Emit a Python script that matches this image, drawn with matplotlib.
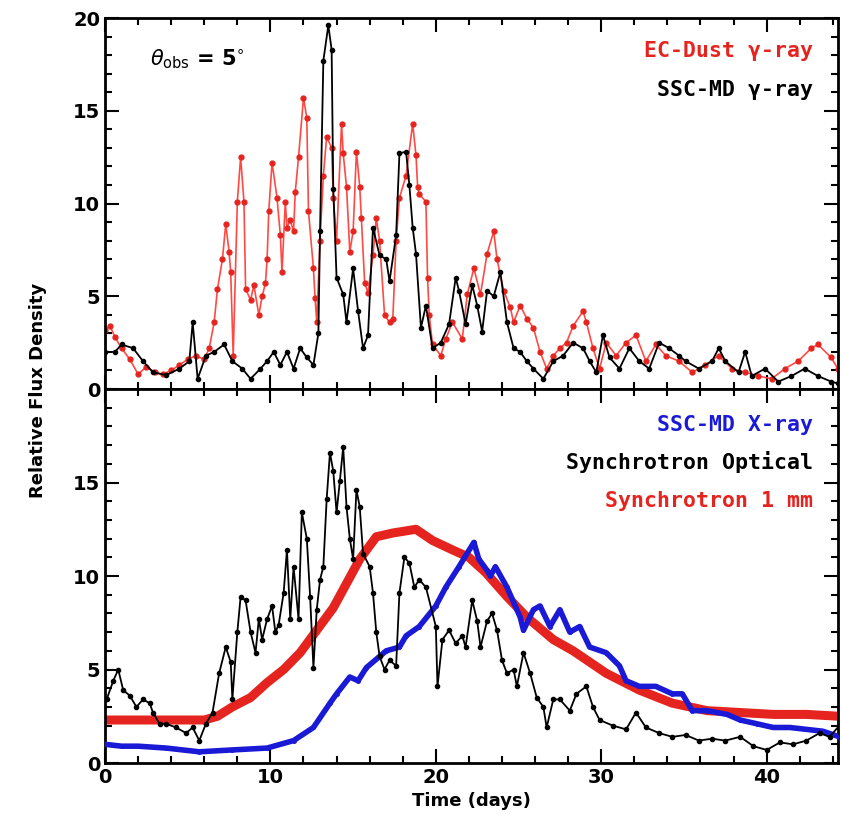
import numpy as np
import matplotlib
matplotlib.use('Agg')
import matplotlib.pyplot as plt
from matplotlib.ticker import MultipleLocator

# ---- top panel: gamma-ray light curves ----
t_ecd = [0, 0.3, 0.6, 1.0, 1.5, 2.0, 2.5, 3.0, 3.5, 4.0,
         4.5, 5.0, 5.5, 6.0, 6.3, 6.6, 6.8, 7.1, 7.3, 7.5,
         7.6, 7.75, 8.0, 8.2, 8.4, 8.5, 8.8, 9.0, 9.3, 9.5,
         9.7, 9.8, 9.9, 10.1, 10.4, 10.6, 10.7, 10.9, 11.0, 11.2,
         11.4, 11.5, 11.7, 12.0, 12.2, 12.3, 12.6, 12.7, 12.8, 13.0,
         13.2, 13.4, 13.7, 13.8, 14.0, 14.3, 14.4, 14.6, 14.8, 15.0,
         15.2, 15.4, 15.5, 15.7, 15.9, 16.2, 16.4, 16.6, 16.9, 17.2,
         17.4, 17.6, 17.8, 18.2, 18.6, 18.8, 18.9, 19.0, 19.4, 19.5,
         19.6, 19.8, 20.3, 20.6, 21.0, 21.6, 21.9, 22.3, 22.7, 23.1,
         23.5, 23.7, 24.1, 24.5, 24.7, 25.1, 25.5, 25.9, 26.3, 26.7,
         27.1, 27.5, 27.9, 28.3, 28.9, 29.1, 29.5, 29.9, 30.3, 30.9,
         31.5, 32.1, 32.7, 33.3, 33.9, 34.7, 35.5, 36.3, 37.1, 37.9,
         38.7, 39.5, 40.3, 41.1, 41.9, 42.7, 43.1, 43.9, 44.3]
f_ecd = [3.2, 3.4, 2.8, 2.2, 1.6, 0.8, 1.2, 0.9, 0.8, 1.0,
         1.3, 1.6, 1.8, 1.6, 2.2, 3.6, 5.4, 7.0, 8.9, 7.4,
         6.3, 1.8, 10.1, 12.5, 10.1, 5.4, 4.8, 5.6, 4.0, 5.0,
         5.7, 7.0, 9.6, 12.2, 10.3, 8.3, 6.3, 10.1, 8.7, 9.1,
         8.5, 10.6, 12.5, 15.7, 14.6, 9.6, 6.5, 4.9, 3.6, 8.0,
         11.5, 13.6, 13.0, 10.3, 8.0, 14.3, 12.7, 10.9, 7.4, 8.5,
         12.8, 10.9, 9.2, 5.7, 5.2, 7.2, 9.2, 8.0, 4.0, 3.6,
         3.8, 8.0, 10.3, 11.5, 14.3, 12.6, 10.9, 10.5, 10.1, 6.0,
         4.0, 2.4, 1.8, 2.7, 3.6, 2.7, 5.1, 6.5, 5.1, 7.3,
         8.5, 7.0, 5.3, 4.4, 3.6, 4.5, 3.8, 3.3, 2.0, 1.1,
         1.8, 2.2, 2.5, 3.4, 4.2, 3.6, 2.2, 1.1, 2.5, 1.8,
         2.5, 2.9, 1.5, 2.4, 1.8, 1.5, 0.9, 1.3, 1.8, 1.1,
         0.9, 0.7, 0.55, 1.1, 1.5, 2.2, 2.4, 1.7, 1.1]

t_sscg = [0, 0.6, 1.0, 1.7, 2.3, 2.9, 3.7, 4.5, 5.1, 5.3,
          5.6, 6.1, 6.6, 7.2, 7.7, 8.3, 8.8, 9.4, 9.8, 10.2,
          10.6, 11.0, 11.4, 11.8, 12.2, 12.6, 12.9, 13.0, 13.2, 13.5,
          13.7, 13.8, 14.0, 14.4, 14.6, 15.0, 15.3, 15.6, 15.9, 16.2,
          16.6, 17.0, 17.2, 17.6, 17.8, 18.2, 18.4, 18.6, 18.8, 19.1,
          19.4, 19.8, 20.3, 20.8, 21.2, 21.4, 21.8, 22.2, 22.5, 22.8,
          23.1, 23.5, 23.9, 24.3, 24.7, 25.1, 25.5, 25.9, 26.5, 27.1,
          27.7, 28.3, 28.9, 29.3, 29.7, 30.1, 30.5, 31.1, 31.7, 32.3,
          32.9, 33.5, 34.1, 34.7, 35.1, 35.9, 36.7, 37.1, 37.5, 38.3,
          38.7, 39.1, 39.9, 40.7, 41.5, 42.3, 43.1, 43.9, 44.3]
f_sscg = [2.0, 2.0, 2.4, 2.2, 1.5, 0.9, 0.75, 1.1, 1.5, 3.6,
          0.55, 1.8, 2.0, 2.4, 1.5, 1.1, 0.55, 1.1, 1.5, 2.0,
          1.3, 2.0, 1.1, 2.2, 1.7, 1.3, 3.0, 8.5, 17.7, 19.6,
          18.3, 10.8, 6.0, 5.1, 3.6, 6.5, 4.2, 2.2, 2.9, 8.7,
          7.2, 7.0, 5.8, 8.3, 12.7, 12.8, 11.0, 8.7, 7.3, 3.3,
          4.5, 2.2, 2.5, 3.5, 6.0, 5.3, 3.5, 5.6, 4.5, 3.1,
          5.3, 5.0, 6.3, 3.6, 2.2, 2.0, 1.5, 1.1, 0.55, 1.5,
          1.8, 2.5, 2.2, 1.5, 0.9, 2.9, 1.7, 1.1, 2.2, 1.5,
          1.1, 2.5, 2.2, 1.8, 1.5, 1.1, 1.5, 2.2, 1.5, 0.9,
          2.0, 0.7, 1.1, 0.4, 0.7, 1.1, 0.7, 0.4, 0.3]

# ---- bottom panel ----
t_mm = [0, 2, 4, 6, 6.8, 7.7, 8.8, 9.8, 10.8, 11.8,
        12.8, 13.8, 14.6, 15.4, 16.4, 17.4, 18.8, 19.8, 21.0, 22.0,
        23.0, 24.3, 25.5, 26.3, 27.1, 28.3, 30.3, 32.3, 34.3, 36.4,
        38.4, 40.4, 42.4, 44.4]
f_mm = [2.3, 2.3, 2.3, 2.3, 2.5, 3.0, 3.5, 4.3, 5.0, 5.9,
        7.1, 8.3, 9.6, 10.9, 12.1, 12.3, 12.5, 11.9, 11.4, 11.0,
        10.2, 8.9, 7.8, 7.2, 6.6, 6.0, 4.8, 3.9, 3.2, 2.8,
        2.7, 2.6, 2.6, 2.5]

t_xray = [0, 1, 2, 3.7, 5.7, 7.7, 9.8, 11.4, 12.6, 13.6,
          14.0, 14.8, 15.3, 15.8, 16.6, 17.0, 17.8, 18.2, 19.0, 20.0,
          20.6, 21.4, 22.3, 22.6, 23.1, 23.3, 23.6, 24.3, 25.1, 25.3,
          25.9, 26.3, 26.9, 27.5, 28.1, 28.7, 29.3, 30.3, 31.1, 31.5,
          32.3, 33.3, 34.3, 34.9, 35.5, 36.4, 37.6, 38.4, 39.4, 40.4,
          41.4, 42.4, 43.4, 44.4]
f_xray = [1.0, 0.9, 0.9, 0.8, 0.6, 0.7, 0.8, 1.2, 1.9, 3.2,
          3.7, 4.6, 4.4, 5.1, 5.7, 6.0, 6.2, 6.8, 7.3, 8.4,
          9.4, 10.5, 11.8, 10.9, 10.3, 10.0, 10.5, 9.4, 7.8, 7.1,
          8.2, 8.4, 7.3, 8.2, 7.0, 7.3, 6.2, 5.9, 5.2, 4.4,
          4.1, 4.1, 3.7, 3.7, 2.8, 2.8, 2.6, 2.3, 2.1, 1.9,
          1.9, 1.8, 1.7, 1.4]

t_opt = [0.1, 0.5, 0.8, 1.1, 1.5, 1.9, 2.3, 2.7, 2.9, 3.3,
         3.7, 4.3, 4.9, 5.3, 5.7, 6.1, 6.5, 6.9, 7.3, 7.6,
         7.7, 8.0, 8.2, 8.5, 8.8, 9.1, 9.3, 9.5, 9.8, 10.1,
         10.3, 10.5, 10.8, 11.0, 11.2, 11.4, 11.7, 11.9, 12.2, 12.4,
         12.6, 12.8, 13.0, 13.2, 13.4, 13.6, 13.8, 14.0, 14.2, 14.4,
         14.6, 14.8, 15.0, 15.2, 15.4, 15.6, 16.0, 16.2, 16.4, 16.6,
         16.9, 17.2, 17.6, 17.8, 18.1, 18.4, 18.7, 19.0, 19.4, 20.0,
         20.1, 20.4, 20.8, 21.2, 21.6, 21.8, 22.2, 22.5, 22.7, 23.1,
         23.4, 23.7, 24.0, 24.3, 24.7, 24.9, 25.3, 25.7, 26.1, 26.5,
         26.7, 27.1, 27.5, 28.1, 28.5, 29.1, 29.5, 29.9, 30.7, 31.5,
         32.1, 32.7, 33.5, 34.3, 35.1, 35.9, 36.7, 37.5, 38.4, 39.2,
         40.0, 40.8, 41.6, 42.4, 43.2, 43.8, 44.4]
f_opt = [3.4, 4.4, 5.0, 3.9, 3.6, 3.0, 3.4, 3.2, 2.7, 2.1,
         2.1, 1.9, 1.6, 1.9, 1.2, 2.1, 2.7, 4.8, 6.2, 5.4,
         3.4, 7.0, 8.9, 8.7, 7.0, 5.9, 7.7, 6.6, 7.7, 8.4,
         7.0, 7.4, 9.1, 11.4, 7.7, 10.5, 7.7, 13.4, 12.0, 8.9,
         5.1, 8.2, 9.8, 10.5, 14.1, 16.6, 15.6, 13.4, 15.1, 16.9,
         13.7, 12.0, 10.9, 14.6, 13.7, 11.2, 10.5, 9.1, 7.0, 5.7,
         5.0, 5.5, 5.2, 9.1, 11.0, 10.7, 9.4, 9.8, 9.4, 7.3,
         4.1, 6.6, 7.1, 6.4, 6.8, 6.2, 8.7, 7.6, 6.2, 7.6,
         8.0, 7.1, 5.5, 4.8, 5.0, 4.1, 5.9, 4.8, 3.5, 3.0,
         1.9, 3.4, 3.4, 2.8, 3.7, 4.1, 3.0, 2.3, 2.0, 1.8,
         2.7, 1.9, 1.6, 1.4, 1.5, 1.2, 1.3, 1.2, 1.4, 0.9,
         0.7, 1.1, 1.0, 1.2, 1.6, 1.4, 2.0]

RED = '#e5241f'
BLUE = '#1a1ad6'
TXT = dict(fontsize=15.5, fontweight='bold', family='DejaVu Sans Mono', ha='right')

fig = plt.figure(figsize=(8.42, 8.30), dpi=100)
ax1 = fig.add_axes([0.1247, 0.5313, 0.8703, 0.447])
ax2 = fig.add_axes([0.1247, 0.0807, 0.8703, 0.4506], sharex=ax1)

# top
ax1.plot(t_ecd, f_ecd, color='#ff4a44', lw=1.2, marker='o', ms=3.5,
         mfc=RED, mec=RED, zorder=2)
ax1.plot(t_sscg, f_sscg, color='black', lw=1.3, marker='o', ms=3,
         mfc='black', mec='black', zorder=3)
ax1.text(2.7, 17.8, r'$\theta_{\rm obs}$ = 5$^{\circ}$', fontsize=15,
         fontweight='bold', ha='left', va='center')
ax1.text(42.8, 18.2, 'EC-Dust γ-ray', color=RED, va='center', **TXT)
ax1.text(42.8, 16.1, 'SSC-MD γ-ray', color='black', va='center', **TXT)

# bottom
ax2.plot(t_mm, f_mm, color=RED, lw=6.5, solid_capstyle='round',
         solid_joinstyle='round', zorder=2)
ax2.plot(t_xray, f_xray, color=BLUE, lw=4, marker='o', ms=2.5,
         solid_joinstyle='round', zorder=3)
ax2.plot(t_opt, f_opt, color='black', lw=1.3, marker='o', ms=3, zorder=4)
ax2.text(42.8, 18.1, 'SSC-MD X-ray', color=BLUE, va='center', **TXT)
ax2.text(42.8, 16.1, 'Synchrotron Optical', color='black', va='center', **TXT)
ax2.text(42.8, 14.0, 'Synchrotron 1 mm', color=RED, va='center', **TXT)

for ax in (ax1, ax2):
    ax.set_xlim(0, 44.3)
    ax.set_ylim(0, 20)
    ax.xaxis.set_major_locator(MultipleLocator(10))
    ax.xaxis.set_minor_locator(MultipleLocator(2))
    ax.yaxis.set_major_locator(MultipleLocator(5))
    ax.yaxis.set_minor_locator(MultipleLocator(1))
    ax.tick_params(which='both', direction='in', top=True, right=True, width=1.5)
    ax.tick_params(which='major', length=10, labelsize=14)
    ax.tick_params(which='minor', length=5)
    for s in ax.spines.values():
        s.set_linewidth(2)
    for lab in ax.get_xticklabels() + ax.get_yticklabels():
        lab.set_fontweight('bold')

plt.setp(ax1.get_xticklabels(), visible=False)
ax2.set_yticks([0, 5, 10, 15])
ax2.yaxis.set_minor_locator(MultipleLocator(1))
for lab in ax2.get_yticklabels():
    lab.set_fontweight('bold')
ax2.set_ylim(0, 20)

ax2.set_xlabel('Time (days)', fontsize=13, fontweight='bold', labelpad=4)
fig.text(0.045, 0.53, 'Relative Flux Density', rotation=90, fontsize=13,
         fontweight='bold', ha='center', va='center')

fig.savefig('out.png', dpi=100)
